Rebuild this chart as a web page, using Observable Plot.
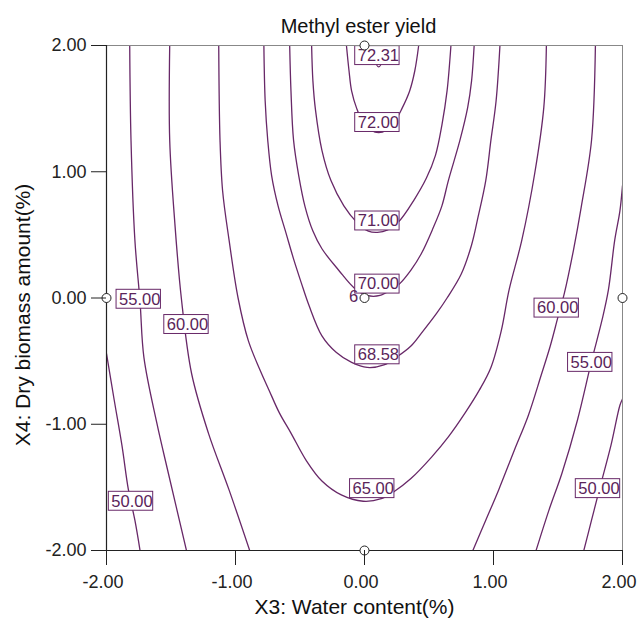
<!DOCTYPE html>
<html>
<head>
<meta charset="utf-8">
<script src="https://cdn.jsdelivr.net/npm/d3@7"></script>
<script src="https://cdn.jsdelivr.net/npm/@observablehq/plot@0.6"></script>
<style>
  html, body { margin: 0; padding: 0; background: #fff; }
  #chart { width: 637px; height: 622px; }
</style>
</head>
<body>
<div id="chart"></div>
<script>
// Contour lines: [x3, x4] pairs
const c50L = [[-2.0,-0.44],[-1.94,-0.81],[-1.88,-1.17],[-1.83,-1.52],[-1.78,-1.76],[-1.74,-2.0]];
const c50R = [[2.0,-0.80],[1.98,-0.85],[1.91,-1.17],[1.82,-1.52],[1.76,-1.76],[1.70,-2.0]];
const c55L = [[-1.82,2.0],[-1.81,1.25],[-1.78,0.46],[-1.74,-0.03],[-1.71,-0.47],[-1.61,-0.99],[-1.52,-1.39],[-1.38,-2.0]];
const c55R = [[2.0,0.89],[1.98,0.69],[1.94,0.46],[1.89,0.06],[1.84,-0.18],[1.76,-0.50],[1.65,-0.97],[1.53,-1.39],[1.43,-1.68],[1.33,-2.0]];
const c60L = [[-1.51,2.0],[-1.51,1.25],[-1.47,0.59],[-1.42,0.0],[-1.34,-0.60],[-1.21,-1.07],[-1.05,-1.52],[-0.89,-2.0]];
const c60R = [[1.79,2.0],[1.76,1.25],[1.68,0.72],[1.62,0.38],[1.55,0.04],[1.50,-0.15],[1.44,-0.38],[1.37,-0.61],[1.27,-0.93],[1.16,-1.21],[1.04,-1.52],[0.94,-1.76],[0.84,-2.0]];
const c65 = [[-1.13,2.0],[-1.12,1.25],[-1.10,0.85],[-1.05,0.46],[-0.98,0.0],[-0.90,-0.34],[-0.81,-0.57],[-0.74,-0.73],[-0.66,-0.91],[-0.57,-1.07],[-0.45,-1.29],[-0.33,-1.45],[-0.18,-1.56],[-0.01,-1.61],[0.13,-1.59],[0.22,-1.54],[0.36,-1.43],[0.52,-1.26],[0.65,-1.10],[0.78,-0.91],[0.89,-0.73],[0.98,-0.55],[1.06,-0.26],[1.12,0.06],[1.22,0.46],[1.32,0.99],[1.39,1.51],[1.41,2.0]];
const c6858 = [[-0.78,2.0],[-0.77,1.56],[-0.75,1.25],[-0.72,0.97],[-0.67,0.73],[-0.61,0.52],[-0.55,0.31],[-0.49,0.12],[-0.43,-0.06],[-0.33,-0.30],[-0.22,-0.43],[-0.10,-0.51],[0.02,-0.55],[0.15,-0.53],[0.26,-0.46],[0.36,-0.38],[0.44,-0.28],[0.56,-0.12],[0.64,0.0],[0.75,0.19],[0.83,0.42],[0.88,0.64],[0.94,0.93],[0.98,1.25],[1.02,1.56],[1.05,2.0]];
const c70 = [[-0.58,2.0],[-0.57,1.64],[-0.55,1.25],[-0.51,0.97],[-0.46,0.72],[-0.40,0.53],[-0.33,0.39],[-0.20,0.22],[-0.08,0.08],[0.02,0.02],[0.12,0.02],[0.21,0.07],[0.27,0.11],[0.36,0.22],[0.44,0.35],[0.53,0.55],[0.60,0.73],[0.65,0.93],[0.74,1.25],[0.80,1.51],[0.83,1.72],[0.85,2.0]];
const c71 = [[-0.41,2.0],[-0.40,1.72],[-0.38,1.49],[-0.33,1.17],[-0.26,0.93],[-0.16,0.73],[-0.06,0.60],[0.03,0.53],[0.10,0.52],[0.18,0.54],[0.27,0.61],[0.38,0.77],[0.48,0.95],[0.55,1.13],[0.60,1.37],[0.64,1.64],[0.67,2.0]];
const c72 = [[-0.14,2.0],[-0.12,1.80],[-0.10,1.64],[-0.06,1.50],[-0.01,1.39],[0.05,1.33],[0.11,1.31],[0.17,1.33],[0.23,1.39],[0.29,1.50],[0.35,1.64],[0.39,1.80],[0.42,2.0]];
const c7231 = [[0.07,1.90],[0.11,1.83],[0.15,1.90]];

// Contour labels: text and position
const labelText = ["72.31","72.00","71.00","70.00","68.58","65.00","60.00","55.00","50.00","55.00","60.00","50.00"];
const labelX    = [0.10, 0.10, 0.10, 0.10, 0.10, 0.06, 1.49, 1.75, 1.81, -1.75, -1.38, -1.81];
const labelY    = [1.92, 1.39, 0.61, 0.11, -0.45, -1.51, -0.08, -0.51, -1.51, -0.01, -0.21, -1.61];

// Design points
const designX = [0, 0, 0, -2, 2];
const designY = [2, 0, -2, 0, 0];

const xTicks = [-2, -1, 0, 1, 2];
const yTicks = [-2, -1, 0, 1, 2];

const contours = {c50L, c50R, c55L, c55R, c60L, c60R, c65, c6858, c70, c71, c72, c7231};
const lineData = [];
for (const [id, pts] of Object.entries(contours)) for (const [x, y] of pts) lineData.push({id, x, y});
const labels = labelText.map((t, i) => ({text: t, x: labelX[i], y: labelY[i]}));
const design = designX.map((x, i) => ({x, y: designY[i]}));

const purple = "#682868";
const hw = 0.172, hh = 0.075;
const fmt = d => d.toFixed(2);

const chart = Plot.plot({
  width: 637,
  height: 622,
  marginLeft: 106,
  marginRight: 15,
  marginTop: 45,
  marginBottom: 72,
  style: {fontFamily: "Arial, 'Liberation Sans', sans-serif", fontSize: "18px", color: "#222", background: "#fff"},
  x: {domain: [-2, 2]},
  y: {domain: [-2, 2]},
  marks: [
    Plot.line(lineData, {x: "x", y: "y", z: "id", stroke: purple, strokeWidth: 1.3, curve: "catmull-rom", clip: true}),
    Plot.rect(labels, {x1: d => d.x - hw, x2: d => d.x + hw, y1: d => d.y - hh, y2: d => d.y + hh, fill: "white", stroke: purple, strokeWidth: 1}),
    Plot.text(labels, {x: "x", y: "y", text: "text", fontSize: 16.5, fill: "#5a245a", dx: 1}),
    Plot.text(["6"], {x: -0.085, y: 0.01, text: d => d, fontSize: 16.5, fill: "#5a245a"}),
    Plot.frame({stroke: "#888", strokeWidth: 1}),
    Plot.ruleX([-2], {stroke: "#222", strokeWidth: 1.2}),
    Plot.ruleY([-2], {stroke: "#222", strokeWidth: 1.2}),
    Plot.dot(design, {x: "x", y: "y", r: 4.5, fill: "white", stroke: "#222", strokeWidth: 1}),
    Plot.axisX({ticks: xTicks, tickFormat: () => "", tickSize: 15, label: null, stroke: "#222"}),
    Plot.axisX({ticks: xTicks, tickFormat: fmt, tickSize: 0, tickPadding: 25, dx: -3.5, fontSize: 18, label: null, stroke: "none"}),
    Plot.axisY({ticks: yTicks, tickFormat: fmt, tickSize: 15, tickPadding: 5, fontSize: 18, label: null, stroke: "#222"}),
    Plot.text(["Methyl ester yield"], {frameAnchor: "top", lineAnchor: "middle", textAnchor: "middle", text: d => d, dy: -19, dx: -6, fontSize: 20, fill: "#111"}),
    Plot.text(["X3: Water content(%)"], {frameAnchor: "bottom", lineAnchor: "middle", textAnchor: "middle", text: d => d, dy: 57, dx: -10, fontSize: 21, fill: "#111"}),
    Plot.text(["X4: Dry biomass amount(%)"], {frameAnchor: "left", lineAnchor: "middle", textAnchor: "middle", text: d => d, rotate: -90, dx: -83, dy: 17, fontSize: 21, fill: "#111"})
  ]
});
document.getElementById("chart").appendChild(chart);
</script>
</body>
</html>
